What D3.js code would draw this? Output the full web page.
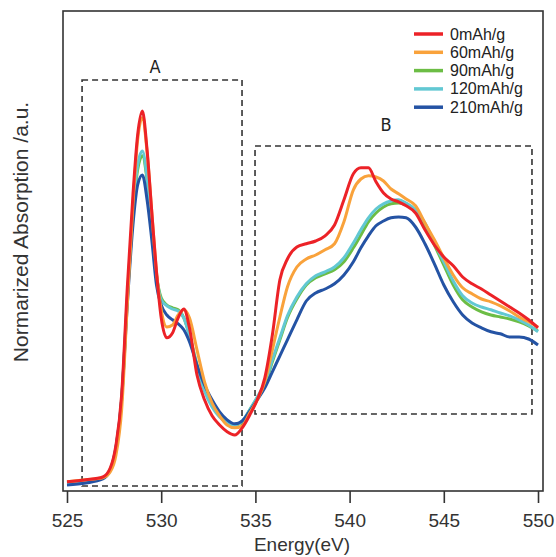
<!DOCTYPE html>
<html>
<head>
<meta charset="utf-8">
<script src="https://cdn.jsdelivr.net/npm/d3@7"></script>
<style>
  body { margin: 0; background: #fff; }
  svg { display: block; }
</style>
</head>
<body>
<div id="chart"></div>
<script>
// photon energy grid (eV), shared by all spectra
const energy = [525, 526, 526.9, 527.3, 527.6, 527.9, 528.2, 528.5, 528.75, 529.0,
  529.25, 529.5, 529.75, 530.0, 530.3, 530.6, 530.9, 531.2, 531.5, 531.9,
  532.3, 532.7, 533.1, 533.5, 533.9, 534.3, 534.7, 535.1, 535.5, 535.9,
  536.3, 536.7, 537.2, 537.7, 538.2, 538.7, 539.2, 539.7, 540.2, 540.6,
  541.0, 541.4, 541.8, 542.2, 542.6, 543.0, 543.5, 544.0, 544.5, 545.0,
  545.5, 546.0, 546.5, 547.0, 547.5, 548.0, 548.5, 549.0, 549.5, 550.0]

const abs0 = [0.023, 0.028, 0.035, 0.058, 0.115, 0.24, 0.508, 0.74, 0.89, 0.95,
  0.853, 0.698, 0.548, 0.433, 0.383, 0.395, 0.433, 0.455, 0.408, 0.29,
  0.228, 0.188, 0.165, 0.148, 0.14, 0.158, 0.19, 0.228, 0.283, 0.39,
  0.528, 0.58, 0.61, 0.618, 0.625, 0.638, 0.665, 0.728, 0.793, 0.808,
  0.808, 0.773, 0.745, 0.73, 0.723, 0.713, 0.695, 0.653, 0.615, 0.585,
  0.563, 0.535, 0.518, 0.505, 0.49, 0.475, 0.46, 0.445, 0.428, 0.408]
const abs60 = [0.023, 0.028, 0.033, 0.048, 0.09, 0.203, 0.465, 0.715, 0.878, 0.933,
  0.848, 0.698, 0.548, 0.453, 0.41, 0.415, 0.44, 0.453, 0.433, 0.353,
  0.273, 0.22, 0.188, 0.165, 0.158, 0.163, 0.195, 0.228, 0.273, 0.353,
  0.435, 0.51, 0.56, 0.58, 0.59, 0.603, 0.618, 0.673, 0.753, 0.78,
  0.788, 0.785, 0.775, 0.755, 0.743, 0.73, 0.713, 0.67, 0.628, 0.583,
  0.54, 0.508, 0.493, 0.48, 0.473, 0.463, 0.45, 0.435, 0.423, 0.41]
const abs90 = [0.02, 0.025, 0.033, 0.053, 0.103, 0.228, 0.478, 0.69, 0.803, 0.838,
  0.778, 0.665, 0.54, 0.483, 0.465, 0.458, 0.453, 0.433, 0.39, 0.315,
  0.253, 0.215, 0.19, 0.173, 0.165, 0.173, 0.203, 0.233, 0.265, 0.323,
  0.378, 0.433, 0.48, 0.515, 0.533, 0.543, 0.553, 0.573, 0.608, 0.64,
  0.673, 0.695, 0.71, 0.718, 0.72, 0.715, 0.698, 0.665, 0.615, 0.565,
  0.515, 0.478, 0.46, 0.448, 0.44, 0.435, 0.43, 0.423, 0.413, 0.4]
const abs120 = [0.02, 0.025, 0.033, 0.055, 0.108, 0.233, 0.483, 0.698, 0.815, 0.85,
  0.783, 0.665, 0.54, 0.478, 0.463, 0.455, 0.45, 0.433, 0.388, 0.313,
  0.25, 0.21, 0.185, 0.17, 0.165, 0.175, 0.203, 0.235, 0.27, 0.328,
  0.383, 0.438, 0.485, 0.518, 0.538, 0.548, 0.56, 0.583, 0.62, 0.653,
  0.683, 0.705, 0.718, 0.725, 0.728, 0.72, 0.703, 0.67, 0.62, 0.573,
  0.525, 0.488, 0.47, 0.46, 0.453, 0.445, 0.438, 0.428, 0.415, 0.398]
const abs210 = [0.015, 0.02, 0.03, 0.053, 0.11, 0.228, 0.465, 0.665, 0.765, 0.79,
  0.728, 0.628, 0.515, 0.465, 0.44, 0.428, 0.418, 0.403, 0.373, 0.315,
  0.265, 0.228, 0.198, 0.178, 0.168, 0.175, 0.2, 0.228, 0.258, 0.298,
  0.338, 0.378, 0.428, 0.475, 0.495, 0.505, 0.518, 0.54, 0.573, 0.608,
  0.638, 0.663, 0.675, 0.683, 0.685, 0.683, 0.66, 0.618, 0.568, 0.515,
  0.473, 0.44, 0.42, 0.408, 0.398, 0.393, 0.385, 0.385, 0.38, 0.365]

const seriesNames = ['0mAh/g', '60mAh/g', '90mAh/g', '120mAh/g', '210mAh/g']
const seriesColors = ['#ec2227', '#f9a23b', '#6cbd45', '#62c8d3', '#2453a4']
const xTicks = [525, 530, 535, 540, 545, 550]

// dashed regions: [e0, e1, v0, v1] and their labels
const regionA = [525.8, 534.29, 0.0125, 1.0275]
const regionB = [534.98, 549.68, 0.1925, 0.8625]
const regionLabels = [{ t: 'A', e: 529.67, v: 1.045 }, { t: 'B', e: 541.93, v: 0.9 }]

const W = 556, H = 557
const margin = { top: 11, right: 13, bottom: 66, left: 63 }
const font = '"Liberation Sans", Arial, sans-serif'

const svg = d3.select('#chart').append('svg').attr('width', W).attr('height', H)

const x = d3.scaleLinear().domain([524.788, 550.265]).range([margin.left, W - margin.right])
const y = d3.scaleLinear().domain([0, 1.2]).range([H - margin.bottom, margin.top])

const series = [abs0, abs60, abs90, abs120, abs210].map((vals, i) => ({
  name: seriesNames[i],
  color: seriesColors[i],
  pts: vals.map((v, j) => [energy[j], v])
}))

// frame
svg.append('rect')
  .attr('x', margin.left).attr('y', margin.top)
  .attr('width', W - margin.left - margin.right)
  .attr('height', H - margin.top - margin.bottom)
  .attr('fill', 'none').attr('stroke', '#333').attr('stroke-width', 1.6)

// dashed boxes
for (const r of [regionA, regionB]) {
  svg.append('rect')
    .attr('x', x(r[0])).attr('y', y(r[3]))
    .attr('width', x(r[1]) - x(r[0])).attr('height', y(r[2]) - y(r[3]))
    .attr('fill', 'none').attr('stroke', '#333').attr('stroke-width', 1.6)
    .attr('stroke-dasharray', '6,4')
}

svg.selectAll('.region-label')
  .data(regionLabels)
  .enter().append('text')
  .attr('x', d => x(d.e)).attr('y', d => y(d.v))
  .attr('text-anchor', 'middle')
  .style('font-family', '"Liberation Sans Narrow", "DejaVu Sans Condensed", sans-serif')
  .style('font-size', '18px').attr('fill', '#222')
  .text(d => d.t)

// spectra
const line = d3.line().x(d => x(d[0])).y(d => y(d[1])).curve(d3.curveMonotoneX)
const drawOrder = [2, 3, 4, 1, 0]
svg.selectAll('.spec')
  .data(drawOrder.map(i => series[i]))
  .enter().append('path')
  .attr('d', d => line(d.pts))
  .attr('fill', 'none')
  .attr('stroke', d => d.color)
  .attr('stroke-width', 3)
  .attr('stroke-linejoin', 'round')

// x axis
const xAxis = svg.append('g')
  .attr('transform', `translate(0,${H - margin.bottom})`)
  .call(d3.axisBottom(x).tickValues(xTicks).tickSize(12).tickPadding(11).tickSizeOuter(0))
xAxis.select('.domain').remove()
xAxis.selectAll('line').attr('stroke', '#333').attr('stroke-width', 1.6)
xAxis.selectAll('text')
  .style('font-family', font)
  .style('font-size', '19px').attr('fill', '#333')

svg.append('text')
  .attr('x', 302).attr('y', 551)
  .attr('text-anchor', 'middle')
  .style('font-family', font)
  .style('font-size', '19px').attr('fill', '#333')
  .text('Energy(eV)')

svg.append('text')
  .attr('transform', 'translate(28,232) rotate(-90)')
  .attr('text-anchor', 'middle')
  .style('font-family', font)
  .style('font-size', '21px').attr('fill', '#333')
  .text('Normarized Absorption /a.u.')

// legend
const legend = svg.append('g').attr('transform', 'translate(414,34)')
const item = legend.selectAll('g')
  .data(series)
  .enter().append('g')
  .attr('transform', (d, i) => `translate(0,${i * 18.3})`)
item.append('line')
  .attr('x1', 0).attr('x2', 29)
  .attr('stroke', d => d.color).attr('stroke-width', 3.5)
item.append('text')
  .attr('x', 36).attr('y', 5.5)
  .style('font-family', font)
  .style('font-size', '16px').attr('fill', '#222')
  .text(d => d.name)
</script>
</body>
</html>
